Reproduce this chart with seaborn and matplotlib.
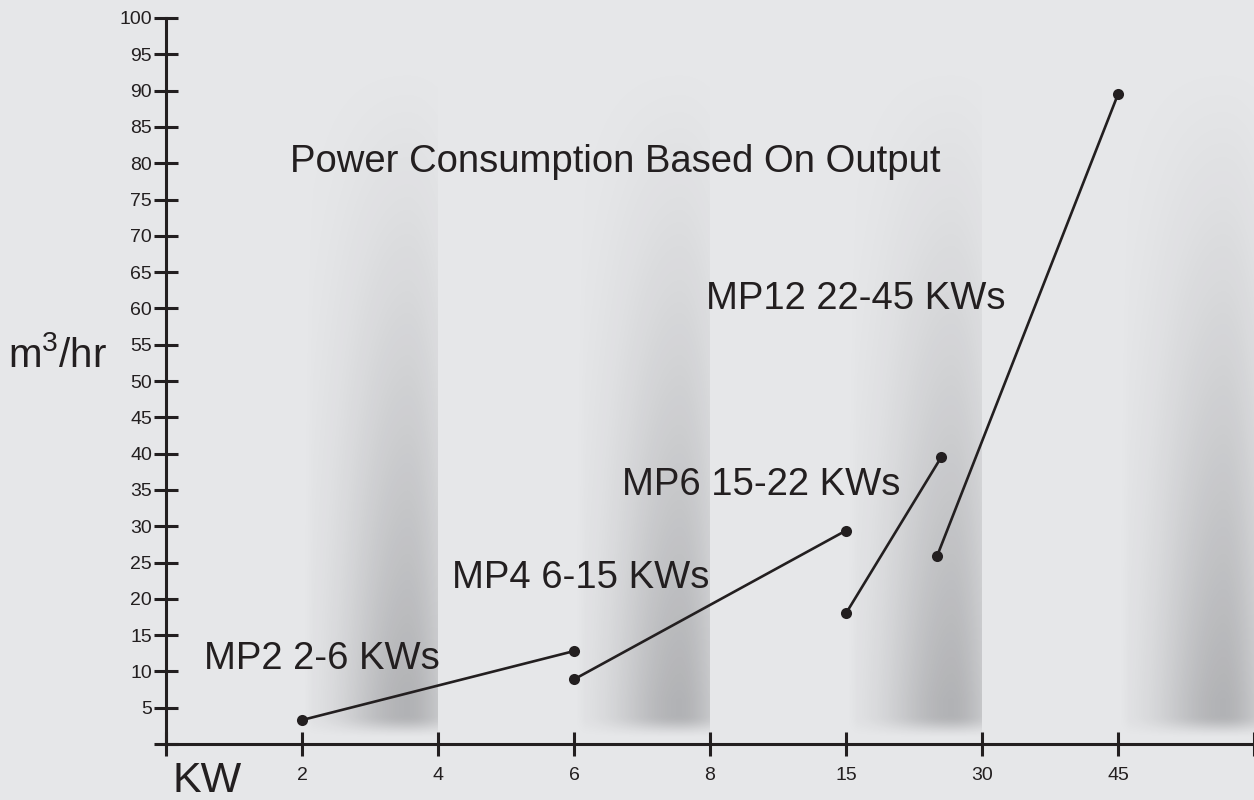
import matplotlib
matplotlib.use("Agg")
import matplotlib.pyplot as plt
import numpy as np
import pandas as pd
import seaborn as sns

# data (x is the tick position on the KW axis)
series_names = ["MP2", "MP4", "MP6", "MP12"]
series_labels = ["MP2 2-6 KWs", "MP4 6-15 KWs", "MP6 15-22 KWs", "MP12 22-45 KWs"]
kw_pos = [[1.0, 3.0], [3.0, 5.0], [5.0, 5.70], [5.67, 7.0]]
flow_m3hr = [[3.3, 12.8], [8.9, 29.4], [18.0, 39.5], [25.9, 89.5]]
x_tick_labels = ["", "2", "4", "6", "8", "15", "30", "45", ""]
y_ticks = list(range(0, 101, 5))
shadow_starts = [1, 3, 5, 7]

BG = "#e6e7e9"
INK = "#231f20"

rows = []
for name, xs, ys in zip(series_names, kw_pos, flow_m3hr):
    for x, y in zip(xs, ys):
        rows.append({"series": name, "pos": x, "flow": y})
df = pd.DataFrame(rows)

sns.set_theme(style="white")
plt.rcParams["font.family"] = ["Liberation Sans", "DejaVu Sans"]
plt.rcParams["mathtext.fontset"] = "custom"
plt.rcParams["mathtext.rm"] = "Liberation Sans"

fig = plt.figure(figsize=(12.54, 8), dpi=100, facecolor=BG)
ax = fig.add_axes([166 / 1254, 56 / 800, 1 - 166 / 1254, (744 - 18) / 800])
ax.set_facecolor(BG)


def shadow_band(ax, start):
    # soft vertical shadow, darkest near the lower right of each band
    u = np.linspace(0, 1, 200)
    yv = np.linspace(0, 100, 400)
    h = np.where(u < 0.78,
                 np.exp(-((u - 0.78) / 0.48) ** 2),
                 np.exp(-((u - 0.78) / 0.32) ** 2))
    h = h * np.clip(u / 0.08, 0, 1)
    top = np.clip((96 - yv) / 90, 0, 1)
    top = top ** 1.3
    bot = np.clip((yv - 0.6) / 3.2, 0, 1)
    bot = bot * bot * (3 - 2 * bot)
    v = top * bot
    alpha = 0.24 * np.outer(v, h)
    img = np.zeros((len(yv), len(u), 4))
    img[..., 0] = 0.05
    img[..., 1] = 0.05
    img[..., 2] = 0.07
    img[..., 3] = alpha
    ax.imshow(img, extent=[start, start + 1, 0, 100], origin="lower",
              aspect="auto", interpolation="bilinear", zorder=0)


for s in shadow_starts:
    shadow_band(ax, s)

sns.lineplot(data=df, x="pos", y="flow", units="series", estimator=None,
             sort=False, color=INK, linewidth=1.9, marker="o", markersize=8,
             markeredgewidth=0, ax=ax, zorder=3)

ax.set_xlim(0, 8)
ax.set_ylim(0, 100)
ax.set_xticks(range(9))
ax.set_xticklabels(x_tick_labels)
ax.set_yticks(y_ticks)
ax.set_yticklabels(["" if t == 0 else str(t) for t in y_ticks])
ax.set_xlabel("")
ax.set_ylabel("")

for side in ["top", "right"]:
    ax.spines[side].set_visible(False)
for side in ["left", "bottom"]:
    ax.spines[side].set_color(INK)
    ax.spines[side].set_linewidth(2.2)
ax.tick_params(axis="both", which="major", bottom=True, left=True,
               direction="inout", length=17, width=2.2,
               color=INK, labelcolor=INK, labelsize=14)
ax.tick_params(axis="y", pad=1.5)
ax.tick_params(axis="x", pad=8)
for tick in ax.xaxis.get_major_ticks() + ax.yaxis.get_major_ticks():
    tick.tick1line.set_clip_on(False)
ax.grid(False)

ax.text(0.912, 78.8, "Power Consumption Based On Output", fontsize=27.5,
        color=INK, ha="left", va="baseline")
label_pos = [(0.28, 10.3), (2.10, 21.5), (3.35, 34.3), (3.97, 59.9)]
for text, (lx, ly) in zip(series_labels, label_pos):
    ax.text(lx, ly, text, fontsize=27.5, color=INK, ha="left", va="baseline")

fig.text(172 / 1254, 0.01, "KW", fontsize=31, color=INK, ha="left", va="baseline")
fig.text(8 / 1254, 0.541, r"m$^{\mathregular{3}}$/hr", fontsize=29, color=INK,
         ha="left", va="baseline")

fig.savefig("out.png", dpi=100, facecolor=BG)
plt.close(fig)
